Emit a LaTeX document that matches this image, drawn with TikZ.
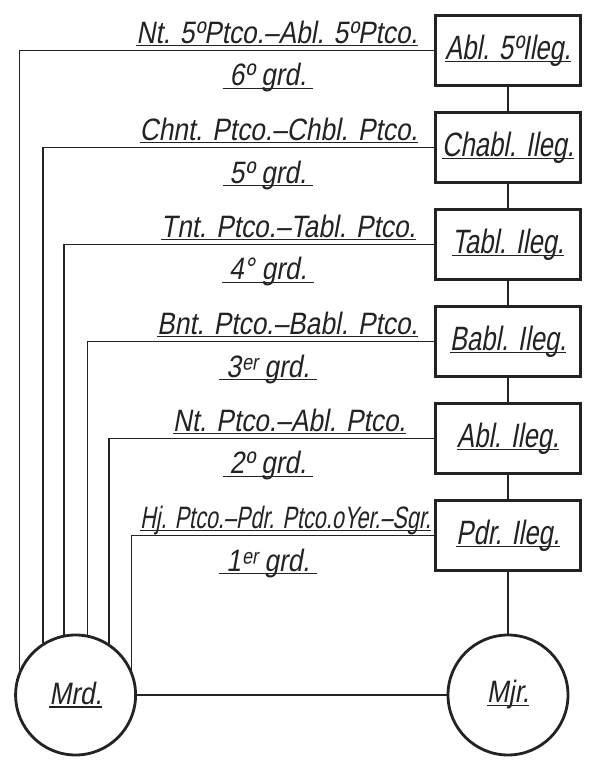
\documentclass[tikz,border=0pt]{standalone}
\usepackage{fontspec}
\usepackage{tikz}
\usepackage{xcolor}
\newfontfamily\handfont[FakeSlant=0.18,FakeStretch=0.85]{Liberation Sans}
\newfontfamily\handbox[FakeSlant=0.18,FakeStretch=0.76]{Liberation Sans}
\newfontfamily\handnarrow[FakeSlant=0.18,FakeStretch=0.70]{Liberation Sans}
\definecolor{Ink}{HTML}{232323}
\newsavebox\ulbox
\newcommand{\ulin}[1]{\sbox\ulbox{#1}\usebox\ulbox\llap{\rule[-2.2pt]{\wd\ulbox}{1.1pt}}}

\begin{document}
\begin{tikzpicture}[x=1cm,y=1cm,
  grade/.style={draw=Ink,line width=2pt,minimum width=3.62cm,minimum height=1.74cm,inner sep=0pt,font={\handbox\fontsize{24}{28}\selectfont},text=Ink},
  parent/.style={circle,draw=Ink,line width=2pt,minimum size=3.0cm,inner sep=0pt,font={\handfont\fontsize{22}{26}\selectfont},text=Ink},
  wire/.style={Ink,line width=1pt},
  upper/.style={anchor=base east,inner sep=0pt,font={\handfont\fontsize{22}{26}\selectfont},text=Ink},
  lower/.style={anchor=base,inner sep=0pt,font={\handfont\fontsize{22}{26}\selectfont},text=Ink}]
\useasboundingbox (0,0) rectangle (14.925,19.1);
\fill[white] (0,0) rectangle (14.925,19.1);
\node[grade] (b1) at (12.70,17.84) {\ulin{Abl. 5ºIleg.}};
\node[grade] (b2) at (12.70,15.41) {\ulin{Chabl. Ileg.}};
\node[grade] (b3) at (12.70,12.99) {\ulin{Tabl. Ileg.}};
\node[grade] (b4) at (12.70,10.56) {\ulin{Babl. Ileg.}};
\node[grade] (b5) at (12.70,8.14) {\ulin{Abl. Ileg.}};
\node[grade] (b6) at (12.70,5.71) {\ulin{Pdr. Ileg.}};
\node[parent] (mrd) at (1.89,1.725) {\ulin{Mrd.}};
\node[parent] (mjr) at (12.70,1.725) {\ulin{Mjr.}};
\draw[wire] (b1.south) -- (b2.north);
\draw[wire] (b2.south) -- (b3.north);
\draw[wire] (b3.south) -- (b4.north);
\draw[wire] (b4.south) -- (b5.north);
\draw[wire] (b5.south) -- (b6.north);
\draw[wire] (b6.south) -- (mjr.north);
\draw[wire] (mrd.east) -- (mjr.west);
\draw[wire] (b1.west) -| (mrd.156);
\draw[wire] (b2.west) -| (mrd.122);
\draw[wire] (b3.west) -| (mrd.101);
\draw[wire] (b4.west) -| (mrd.79);
\draw[wire] (b5.west) -| (mrd.57);
\draw[wire] (b6.west) -| (mrd.24);
\node[upper] (u1) at (10.45,18.02) {\ulin{Nt. 5ºPtco.–Abl. 5ºPtco.}};
\node[upper] (u2) at (10.45,15.59) {\ulin{Chnt. Ptco.–Chbl. Ptco.}};
\node[upper] (u3) at (10.40,13.17) {\ulin{Tnt. Ptco.–Tabl. Ptco.}};
\node[upper] (u4) at (10.45,10.74) {\ulin{Bnt. Ptco.–Babl. Ptco.}};
\node[upper] (u5) at (10.15,8.32) {\ulin{Nt. Ptco.–Abl. Ptco.}};
\node[upper,font={\handnarrow\fontsize{22}{26}\selectfont}] (u6) at (10.78,5.89) {\ulin{Hj. Ptco.–Pdr. Ptco.oYer.–Sgr.}};
\node[lower] (g6) at (6.70,16.95) {\ulin{\hspace{5pt}6º grd.\hspace{5pt}}};
\node[lower] (g5) at (6.70,14.52) {\ulin{\hspace{5pt}5º grd.\hspace{5pt}}};
\node[lower] (g4) at (6.70,12.10) {\ulin{\hspace{5pt}4° grd.\hspace{5pt}}};
\node[lower] (g3) at (6.70,9.67) {\ulin{\hspace{5pt}3ᵉʳ grd.\hspace{5pt}}};
\node[lower] (g2) at (6.70,7.25) {\ulin{\hspace{5pt}2º grd.\hspace{5pt}}};
\node[lower] (g1) at (6.70,4.82) {\ulin{\hspace{5pt}1ᵉʳ grd.\hspace{5pt}}};
\end{tikzpicture}
\end{document}
